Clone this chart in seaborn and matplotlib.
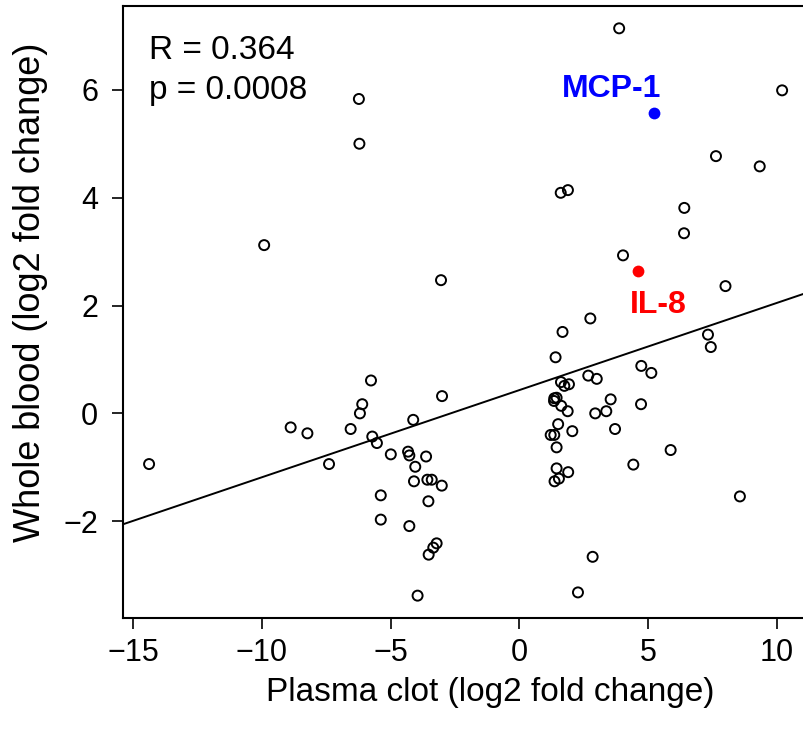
"""
Whole blood vs plasma clot log2 fold change scatter with regression line
"""
import numpy as np
import pandas as pd
import matplotlib
matplotlib.use("Agg")
import matplotlib.pyplot as plt
import seaborn as sns

# open-circle analytes
plasma_clot = [-6.23, -6.21, -9.91, -3.04, 3.88, 10.21, 7.64, 9.34, 1.61, 1.89,
               6.41, 6.40, 4.03, 8.01, 2.76, -5.76, -6.10, -6.19, -3.00, -8.88,
               -8.23, -6.55, -4.12, -5.71, -5.53, -14.38, -7.39, -4.99, -4.32, -4.27,
               -3.62, -4.04, -4.09, -3.57, -3.40, -3.01, -5.38, -3.53, -5.38, -4.27,
               -3.21, -3.34, -3.52, -3.95, 1.68, 1.41, 7.33, 7.44, 4.74, 5.13,
               2.68, 3.01, 1.62, 1.75, 1.93, 1.36, 1.45, 1.35, 1.63, 1.88,
               3.55, 3.38, 2.95, 4.73, 1.51, 2.06, 1.22, 1.36, 3.72, 1.45,
               5.88, 4.43, 1.45, 1.90, 1.54, 1.37, 8.57, 2.85, 2.28]
whole_blood = [5.83, 5.00, 3.12, 2.47, 7.14, 5.99, 4.77, 4.58, 4.09, 4.14,
               3.81, 3.34, 2.93, 2.36, 1.76, 0.61, 0.17, 0.00, 0.32, -0.26,
               -0.37, -0.29, -0.12, -0.43, -0.55, -0.94, -0.94, -0.76, -0.71, -0.78,
               -0.80, -0.99, -1.26, -1.23, -1.23, -1.34, -1.52, -1.63, -1.97, -2.09,
               -2.41, -2.49, -2.62, -3.38, 1.51, 1.04, 1.46, 1.23, 0.88, 0.75,
               0.70, 0.64, 0.58, 0.51, 0.54, 0.28, 0.29, 0.23, 0.14, 0.04,
               0.26, 0.04, 0.00, 0.17, -0.20, -0.33, -0.40, -0.40, -0.29, -0.63,
               -0.68, -0.95, -1.02, -1.09, -1.21, -1.26, -1.54, -2.66, -3.32]

# highlighted analytes
hl_names = ["MCP-1", "IL-8"]
hl_plasma = [5.24, 4.60]
hl_blood = [5.57, 2.64]
hl_colors = ["#0000FF", "#FF0000"]
hl_label_pos = [(3.58, 5.86), (5.42, 1.855)]

r_text = "R = 0.364"
p_text = "p = 0.0008"

df = pd.DataFrame({"plasma": plasma_clot + hl_plasma, "blood": whole_blood + hl_blood})
others = pd.DataFrame({"plasma": plasma_clot, "blood": whole_blood})

sns.set_theme(style="white")
plt.rcParams["font.family"] = ["Liberation Sans", "DejaVu Sans"]
plt.rcParams["text.color"] = "black"

fig = plt.figure(figsize=(8.04, 7.38), dpi=100)
ax = fig.add_axes([0.1534, 0.1622, 0.8466, 0.8301])
ax.set_xlim(-15.38, 11.06)
ax.set_ylim(-3.80, 7.56)

# regression line over all analytes, spanning the whole axis
sns.regplot(data=df, x="plasma", y="blood", scatter=False, ci=None, truncate=False,
            line_kws={"color": "black", "lw": 1.4}, ax=ax)

sns.scatterplot(data=others, x="plasma", y="blood", s=52, marker="o",
                facecolors="none", edgecolor="black", linewidth=1.4, ax=ax, zorder=3)

for name, px, py, col, (lx, ly) in zip(hl_names, hl_plasma, hl_blood, hl_colors, hl_label_pos):
    sns.scatterplot(x=[px], y=[py], s=72, color=col, edgecolor=col, linewidth=0, ax=ax, zorder=4)
    ax.text(lx, ly, name, color=col, fontsize=23, fontweight="bold", ha="center", va="baseline")

ax.text(-14.37, 6.57, r_text, fontsize=24, color="black", ha="left", va="baseline")
ax.text(-14.37, 5.83, p_text, fontsize=24, color="black", ha="left", va="baseline")

ax.set_xlim(-15.38, 11.06)
ax.set_ylim(-3.80, 7.56)
ax.set_xticks([-15, -10, -5, 0, 5, 10])
ax.set_yticks([-2, 0, 2, 4, 6])
ax.tick_params(axis="both", direction="out", length=8, width=1.2, color="black",
               labelsize=22, labelcolor="black", bottom=True, left=True)
ax.tick_params(axis="y", pad=10)
ax.tick_params(axis="x", pad=6)

for side in ["left", "bottom", "top"]:
    ax.spines[side].set_color("black")
    ax.spines[side].set_linewidth(1.5)
ax.spines["right"].set_visible(False)

ax.set_xlabel("Plasma clot (log2 fold change)", fontsize=24, color="black")
ax.set_ylabel("Whole blood (log2 fold change)", fontsize=26, color="black")
ax.xaxis.set_label_coords(0.539, -0.096)
ax.xaxis.label.set_va("top")
ax.yaxis.set_label_coords(-0.137, 0.532)
ax.yaxis.label.set_va("center")

fig.savefig("out.png", dpi=100)
plt.close(fig)
